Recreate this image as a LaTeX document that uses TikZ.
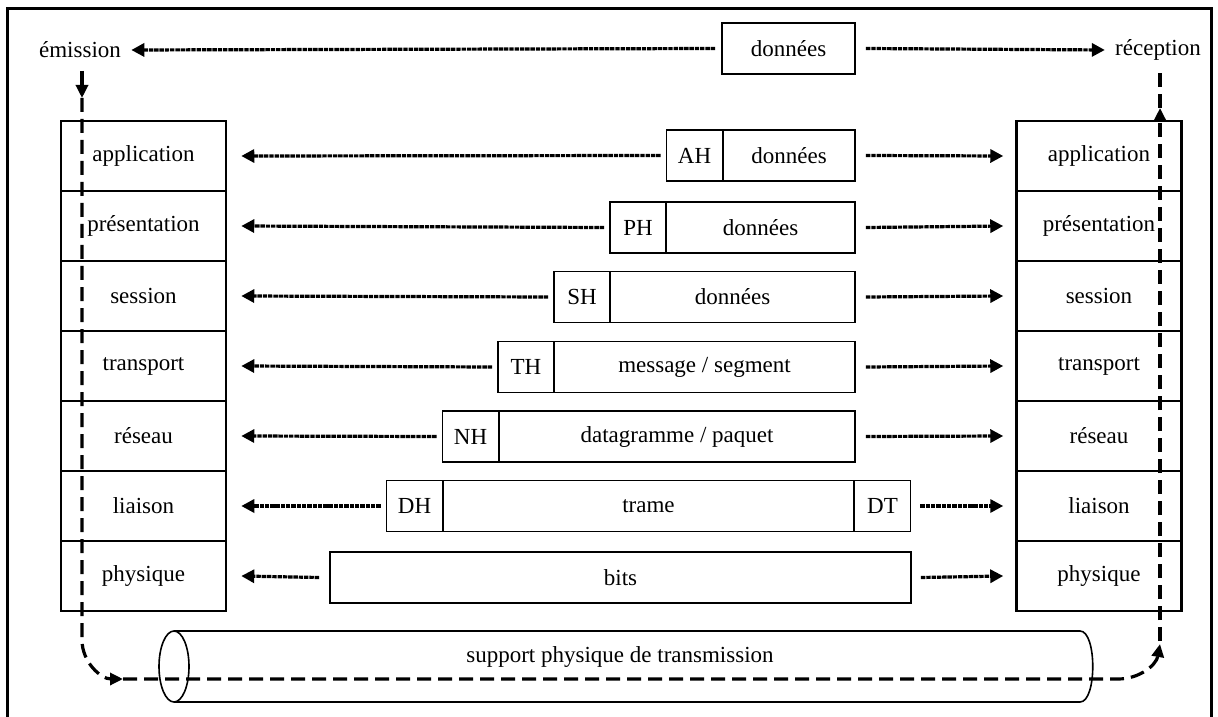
\documentclass[tikz,border=0pt]{standalone}
\usepackage{fontspec}
\setmainfont{Liberation Serif}
\usetikzlibrary{arrows.meta}
\begin{document}
\begin{tikzpicture}[x=0.5pt,y=-0.5pt,
  font=\fontsize{11.5}{13}\selectfont,
  layer/.style={draw,line width=1.25pt,minimum width=82.5pt,minimum height=35pt,inner sep=0pt},
  pbox/.style={draw,line width=0.95pt,minimum height=25.5pt,inner sep=0pt},
  hbox/.style={pbox,minimum width=28pt},
  flow/.style={line width=1.6pt,dash pattern=on 2.2pt off 0.45pt,-{Triangle[length=6.5pt,width=6.5pt]}},
  bigdash/.style={line width=1.6pt,dash pattern=on 7pt off 3.5pt},
  tip/.style={-{Triangle[length=6.5pt,width=6pt]}},
  lbl/.style={inner sep=0pt}]
\useasboundingbox (0,0) rectangle (1218,716);
\draw[line width=1.5pt] (7,9) rectangle (1211,740);

% cylinder (transmission medium)
\draw[line width=0.8pt] (174,631) -- (1080,631) .. controls (1097,631) and (1097,702) .. (1080,702) -- (174,702);
\draw[line width=0.8pt] (174,666.5) ellipse [x radius=15, y radius=35.5];
\node[lbl] (sup) at (620,657) {support physique de transmission};

% end points
\node[lbl] (em) at (80,50) {émission};
\node[lbl] (rec) at (1158,50) {réception};

% left stack
\node[layer] (L1) at (143.5,156) {application};
\node[layer] (L2) at (143.5,226) {présentation};
\node[layer] (L3) at (143.5,296) {session};
\node[layer] (L4) at (143.5,366) {transport};
\node[layer] (L5) at (143.5,436) {réseau};
\node[layer] (L6) at (143.5,506) {liaison};
\node[layer] (L7) at (143.5,576) {physique};
% right stack
\node[layer] (R1) at (1099,156) {application};
\node[layer] (R2) at (1099,226) {présentation};
\node[layer] (R3) at (1099,296) {session};
\node[layer] (R4) at (1099,366) {transport};
\node[layer] (R5) at (1099,436) {réseau};
\node[layer] (R6) at (1099,506) {liaison};
\node[layer] (R7) at (1099,576) {physique};

% data units
\node[pbox,minimum width=66.5pt] (D0) at (788.5,48.5) {données};
\node[hbox] (AH) at (694.5,155.5) {AH};
\node[pbox,minimum width=66pt] (D1) at (789,155.5) {données};
\node[hbox] (PH) at (638,227.5) {PH};
\node[pbox,minimum width=94.5pt] (D2) at (760.5,227.5) {données};
\node[hbox] (SH) at (582,297) {SH};
\node[pbox,minimum width=122.5pt] (D3) at (732.5,297) {données};
\node[hbox] (TH) at (526,367) {TH};
\node[pbox,minimum width=150.5pt] (D4) at (704.5,367) {message / segment};
\node[hbox] (NH) at (470.5,436.5) {NH};
\node[pbox,minimum width=178pt] (D5) at (677,436.5) {datagramme / paquet};
\node[hbox] (DH) at (414.5,506) {DH};
\node[pbox,minimum width=205.5pt] (D6) at (648.5,506) {trame};
\node[hbox] (DT) at (882.5,506) {DT};
\node[pbox,minimum width=290.5pt] (D7) at (620.5,577.5) {bits};

% peer-to-peer flows
\draw[flow] ([xshift=-3pt]D0.west) -- ([xshift=5pt]em.east);
\draw[flow] ([xshift=5pt]D0.east) -- ([xshift=-5pt]rec.west);
\draw[flow] ([xshift=-2.5pt]AH.west) -- ([xshift=7pt]L1.east);
\draw[flow] ([xshift=5pt]D1.east) -- ([xshift=-6pt]R1.west);
\draw[flow] ([xshift=-2.5pt]PH.west) -- ([xshift=7pt]L2.east);
\draw[flow] ([xshift=5pt]D2.east) -- ([xshift=-6pt]R2.west);
\draw[flow] ([xshift=-2.5pt]SH.west) -- ([xshift=7pt]L3.east);
\draw[flow] ([xshift=5pt]D3.east) -- ([xshift=-6pt]R3.west);
\draw[flow] ([xshift=-2.5pt]TH.west) -- ([xshift=7pt]L4.east);
\draw[flow] ([xshift=5pt]D4.east) -- ([xshift=-6pt]R4.west);
\draw[flow] ([xshift=-2.5pt]NH.west) -- ([xshift=7pt]L5.east);
\draw[flow] ([xshift=5pt]D5.east) -- ([xshift=-6pt]R5.west);
\draw[flow] ([xshift=-2.5pt]DH.west) -- ([xshift=7pt]L6.east);
\draw[flow] ([xshift=4.5pt]DT.east) -- ([xshift=-6pt]R6.west);
\draw[flow] ([xshift=-5pt]D7.west) -- ([xshift=7pt]L7.east);
\draw[flow] ([xshift=4.5pt]D7.east) -- ([xshift=-6pt]R7.west);

% physical path
\coordinate (s1) at (82,71);
\coordinate (s2) at (82,98);
\coordinate (e2) at (1160,108);
\coordinate (e1) at (1160,67);
\draw[line width=1.6pt,tip] (s1) -- (s2);
\draw[bigdash,tip] (s2) -- (82,640) to[out=-90,in=180] (123,679);
\draw[bigdash,tip] (123,679) -- (1118,679) to[out=0,in=-100] (1160,644);
\draw[bigdash,tip] (1160,641) -- (e2);
\draw[bigdash] (e2) -- (e1);
\end{tikzpicture}
\end{document}
